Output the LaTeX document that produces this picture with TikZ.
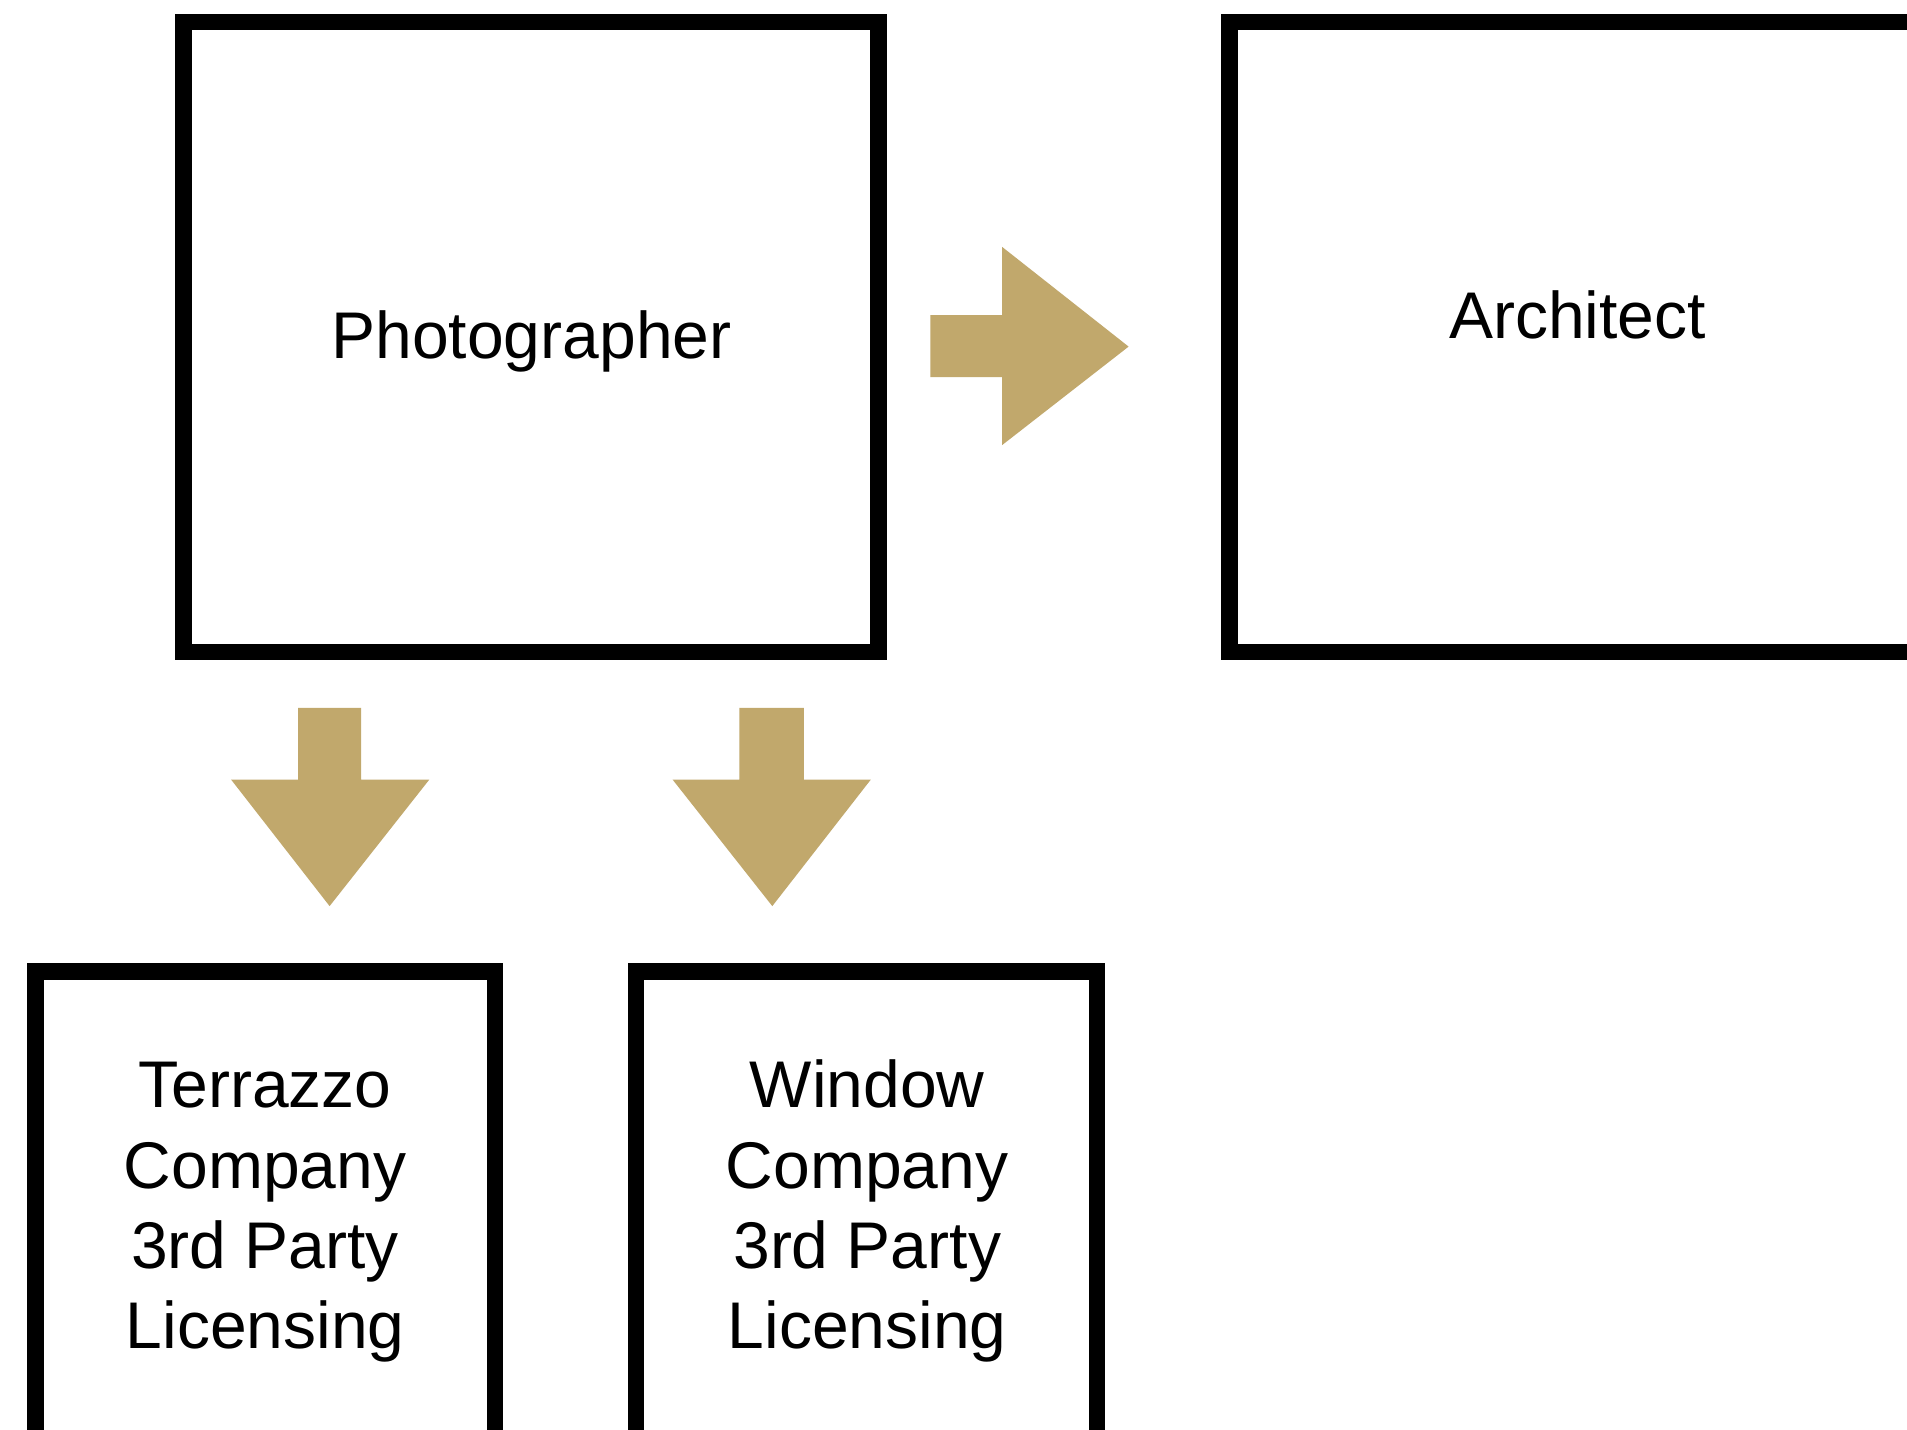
\documentclass[tikz,border=0pt]{standalone}
\usepackage{fontspec}
\setmainfont{Liberation Sans}
\definecolor{gold}{RGB}{193,168,108}
\begin{document}
\begin{tikzpicture}[x=1bp,y=-1bp,
  boxstyle/.style={draw=black,line width=16.5bp,fill=none,inner sep=0pt,outer sep=0pt},
  labelstyle/.style={font=\fontsize{66bp}{80.3bp}\selectfont,align=center,anchor=base,inner sep=0pt},
  arrowfill/.style={fill=gold,draw=none}]
\useasboundingbox[fill=white] (0,0) rectangle (1907,1430);
% boxes
\node[boxstyle,minimum width=695bp,minimum height=630bp,anchor=north west] (photo) at (183.5,22) {};
\node[boxstyle,minimum width=760bp,minimum height=630bp,anchor=north west] (arch) at (1229.6,22) {};
\node[boxstyle,minimum width=459.7bp,minimum height=520bp,anchor=north west] (terr) at (35.3,971.7) {};
\node[boxstyle,minimum width=460.9bp,minimum height=520bp,anchor=north west] (wind) at (636.1,971.7) {};
% labels
\node[labelstyle] (photoT) at (531.5,358.8) {Photographer};
\node[labelstyle] (archT) at (1577.4,338.1) {Architect};
\node[labelstyle] (terrT) at (265.1,1348.8) {Terrazzo\\Company\\3rd Party\\Licensing};
\node[labelstyle] (windT) at (867.2,1348.8) {Window\\Company\\3rd Party\\Licensing};
% block arrows
\fill[arrowfill] (930.4,315.0) -- (1002.1,315.0) -- (1002.1,246.9) -- (1128.6,346.6) -- (1002.1,445.1) -- (1002.1,377.0) -- (930.4,377.0) -- cycle;
\fill[arrowfill] (298.0,707.8) -- (361.2,707.8) -- (361.2,779.6) -- (429.3,779.6) -- (329.6,906.1) -- (231.1,779.6) -- (298.0,779.6) -- cycle;
\fill[arrowfill] (739.4,707.8) -- (803.9,707.8) -- (803.9,779.6) -- (870.8,779.6) -- (772.3,906.1) -- (672.6,779.6) -- (739.4,779.6) -- cycle;
\end{tikzpicture}
\end{document}
